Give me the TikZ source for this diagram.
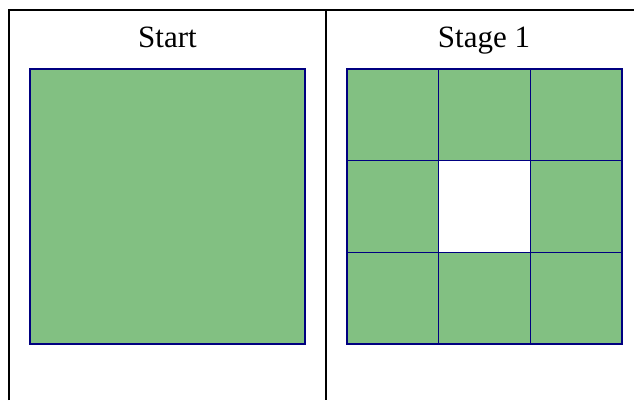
\documentclass[tikz,border=0pt]{standalone}
\usepackage{fontspec}
\setmainfont{Liberation Serif}
\usetikzlibrary{positioning}
\definecolor{carpetgreen}{RGB}{130,192,130}
\definecolor{edgeblue}{RGB}{0,0,128}
\newcommand{\cellsize}{91.67pt}

\begin{document}
\begin{tikzpicture}[x=1pt, y=-1pt, node distance=0pt, outer sep=0pt]
\tikzstyle{square}=[
                  draw=edgeblue,
                  line width=1.5pt,
                  rectangle,
                  inner sep=0pt,
                  minimum size=275pt,
                  anchor=north west]

\tikzstyle{cell}=[
                  draw=edgeblue,
                  line width=0.8pt,
                  rectangle,
                  inner sep=0pt,
                  minimum size=\cellsize,
                  fill=carpetgreen,
                  anchor=north west]

\tikzstyle{title}=[font=\fontsize{31}{36}\selectfont, anchor=base]

\useasboundingbox (0,0) rectangle (634,400);

% table frame
\coordinate (ttl) at (9,10);
\coordinate (ttr) at (634,10);
\coordinate (tbl) at (9,400);
\coordinate (tmt) at (326,10);
\coordinate (tmb) at (326,400);
\draw [line width=2pt] (tbl) -- (ttl) -- (ttr);
\draw [line width=2pt] (tmt) -- (tmb);

\node[title] (hstart) at (167.5,47) {Start};
\node[title] (hstage) at (484,47)   {Stage 1};

% start: one full square
\node[square] (startsq) at (30,69) [fill=carpetgreen] {};

% stage 1: 3x3 cells, middle one removed
\node[cell] (c11) at (347,69)         {};
\node[cell] (c12) [right = of c11]    {};
\node[cell] (c13) [right = of c12]    {};
\node[cell] (c21) [below = of c11]    {};
\node[cell] (c22) [right = of c21, fill=white] {};
\node[cell] (c23) [right = of c22]    {};
\node[cell] (c31) [below = of c21]    {};
\node[cell] (c32) [right = of c31]    {};
\node[cell] (c33) [right = of c32]    {};

\node[square] (stagesq) at (347,69) {};

\end{tikzpicture}
\end{document}
